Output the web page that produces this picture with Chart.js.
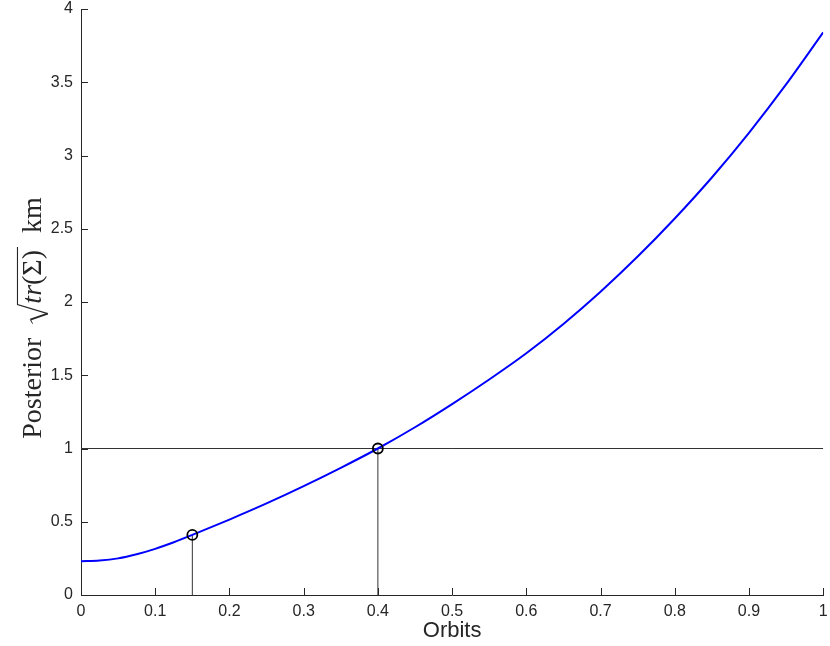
<!DOCTYPE html>
<html>
<head>
<meta charset="utf-8">
<script src="https://cdn.jsdelivr.net/npm/chart.js@4.4.1/dist/chart.umd.min.js"></script>
<style>
  html, body { margin: 0; padding: 0; background: #fff; }
  #wrap { width: 830px; height: 646px; position: relative; }
</style>
</head>
<body>
<div id="wrap"><canvas id="posteriorChart"></canvas></div>
<script>
// values
const orbitX = [0, 0.025, 0.05, 0.075, 0.1, 0.125, 0.15, 0.2, 0.25, 0.3, 0.35, 0.4, 0.45, 0.5,
                0.55, 0.6, 0.65, 0.7, 0.75, 0.8, 0.85, 0.9, 0.95, 1.0];
const posteriorY = [0.23, 0.235, 0.25, 0.278, 0.315, 0.36, 0.41, 0.515, 0.625, 0.743, 0.868, 1.0, 1.145, 1.303,
                    1.471, 1.65, 1.85, 2.07, 2.31, 2.57, 2.85, 3.155, 3.485, 3.84];

// marked points (the two circles) and the threshold line
const markX = [0.15, 0.4];
const markY = [0.41, 1.0];
const thresholdY = 1;

// tick labels
const xTickLabels = ["0", "0.1", "0.2", "0.3", "0.4", "0.5", "0.6", "0.7", "0.8", "0.9", "1"];
const yTickLabels = ["0", "0.5", "1", "1.5", "2", "2.5", "3", "3.5", "4"];

const axisColor = '#262626';

// MATLAB style ticks pointing into the plot
const inwardTicks = {
  id: 'inwardTicks',
  afterDatasetsDraw(chart) {
    const ctx = chart.ctx;
    const area = chart.chartArea;
    const len = 7;
    ctx.save();
    ctx.strokeStyle = axisColor;
    ctx.lineWidth = 1;
    ctx.beginPath();
    chart.scales.x.ticks.forEach(t => {
      const px = Math.round(chart.scales.x.getPixelForValue(t.value)) + 0.5;
      ctx.moveTo(px, area.bottom);
      ctx.lineTo(px, area.bottom - len);
    });
    chart.scales.y.ticks.forEach(t => {
      const py = Math.round(chart.scales.y.getPixelForValue(t.value)) + 0.5;
      ctx.moveTo(area.left, py);
      ctx.lineTo(area.left + len, py);
    });
    ctx.stroke();
    ctx.restore();
  }
};

// y label with a square root: Posterior sqrt(tr(Sigma)) km
const yTitle = {
  id: 'yTitle',
  afterDraw(chart) {
    const ctx = chart.ctx;
    const size = 28;
    const roman = size + 'px "Liberation Serif", "DejaVu Serif", serif';
    const italic = 'italic ' + roman;
    const parts = [
      { t: 'Posterior', f: roman },
      { t: '  ', f: roman },
      { t: 'tr', f: italic, root: true },
      { t: '(Σ)', f: roman, root: true },
      { t: '  km', f: roman }
    ];
    const rootW = 20;
    let total = 0;
    parts.forEach(p => { ctx.font = p.f; p.w = ctx.measureText(p.t).width; total += p.w; });
    total += rootW + 3;

    const cy = 318;
    const baseX = 41;
    ctx.save();
    ctx.translate(baseX, cy);
    ctx.rotate(-Math.PI / 2);
    ctx.fillStyle = axisColor;
    ctx.strokeStyle = axisColor;
    ctx.textBaseline = 'alphabetic';
    let u = -total / 2;
    let rootStart = null, rootEnd = null;
    parts.forEach(p => {
      if (p.root && rootStart === null) {
        rootStart = u;
        u += rootW;
      }
      ctx.font = p.f;
      ctx.fillText(p.t, u, 0);
      u += p.w;
      if (p.root) { rootEnd = u + 3; }
      if (p.root && p.t === '(Σ)') { u += 3; }
    });
    // radical sign and bar
    const top = -size * 0.84;
    const low = size * 0.24;
    ctx.lineWidth = 1;
    ctx.beginPath();
    ctx.moveTo(rootStart, -size * 0.3);
    ctx.lineTo(rootStart + 4, -size * 0.38);
    ctx.stroke();
    ctx.lineWidth = 2;
    ctx.beginPath();
    ctx.moveTo(rootStart + 4, -size * 0.38);
    ctx.lineTo(rootStart + 10, low);
    ctx.stroke();
    ctx.lineWidth = 1.1;
    ctx.beginPath();
    ctx.moveTo(rootStart + 10, low);
    ctx.lineTo(rootStart + rootW - 1, top);
    ctx.lineTo(rootEnd, top);
    ctx.stroke();
    ctx.restore();
  }
};

const curvePoints = orbitX.map((x, i) => ({ x: x, y: posteriorY[i] }));
const markPoints = markX.map((x, i) => ({ x: x, y: markY[i] }));

const ctx = document.getElementById('posteriorChart').getContext('2d');
const chart = new Chart(ctx, {
  type: 'scatter',
  data: {
    datasets: [
      {
        label: 'marks',
        data: markPoints,
        showLine: false,
        pointRadius: 5,
        pointBorderWidth: 1.8,
        pointBorderColor: '#000',
        pointBackgroundColor: 'rgba(0,0,0,0)'
      },
      {
        label: 'posterior',
        data: curvePoints,
        showLine: true,
        borderColor: '#0000ff',
        borderWidth: 2,
        pointRadius: 0,
        cubicInterpolationMode: 'monotone'
      },
      {
        label: 'threshold',
        data: [{ x: 0, y: thresholdY }, { x: 1, y: thresholdY }],
        showLine: true,
        borderColor: '#333',
        borderWidth: 1,
        pointRadius: 0
      },
      {
        label: 'drop1',
        data: [{ x: markX[0], y: 0 }, { x: markX[0], y: markY[0] }],
        showLine: true,
        borderColor: '#333',
        borderWidth: 1,
        pointRadius: 0
      },
      {
        label: 'drop2',
        data: [{ x: markX[1], y: 0 }, { x: markX[1], y: markY[1] }],
        showLine: true,
        borderColor: '#333',
        borderWidth: 1,
        pointRadius: 0
      }
    ]
  },
  options: {
    responsive: true,
    maintainAspectRatio: false,
    animation: false,
    layout: { padding: { top: 9, right: 6, bottom: 0, left: 0 } },
    plugins: {
      legend: { display: false },
      tooltip: { enabled: false }
    },
    scales: {
      x: {
        type: 'linear',
        min: 0,
        max: 1,
        grid: { drawOnChartArea: false, drawTicks: false },
        border: { display: true, color: axisColor, width: 1 },
        ticks: {
          stepSize: 0.1,
          padding: 7,
          color: axisColor,
          font: { family: '"Liberation Sans", Arial, sans-serif', size: 16 },
          maxRotation: 0,
          callback: (v, i) => xTickLabels[i]
        },
        title: {
          display: true,
          text: 'Orbits',
          color: axisColor,
          font: { family: '"Liberation Sans", Arial, sans-serif', size: 22 },
          padding: { top: 0, bottom: 2 }
        },
        afterFit: s => { s.height = 51; s.paddingLeft = 0; s.paddingRight = 0; }
      },
      y: {
        type: 'linear',
        min: 0,
        max: 4,
        grid: { drawOnChartArea: false, drawTicks: false },
        border: { display: true, color: axisColor, width: 1 },
        ticks: {
          stepSize: 0.5,
          padding: 8,
          color: axisColor,
          font: { family: '"Liberation Sans", Arial, sans-serif', size: 16 },
          callback: (v, i) => yTickLabels[i]
        },
        afterFit: s => { s.width = 81; s.paddingTop = 0; s.paddingBottom = 0; }
      }
    }
  },
  plugins: [inwardTicks, yTitle]
});
</script>
</body>
</html>
